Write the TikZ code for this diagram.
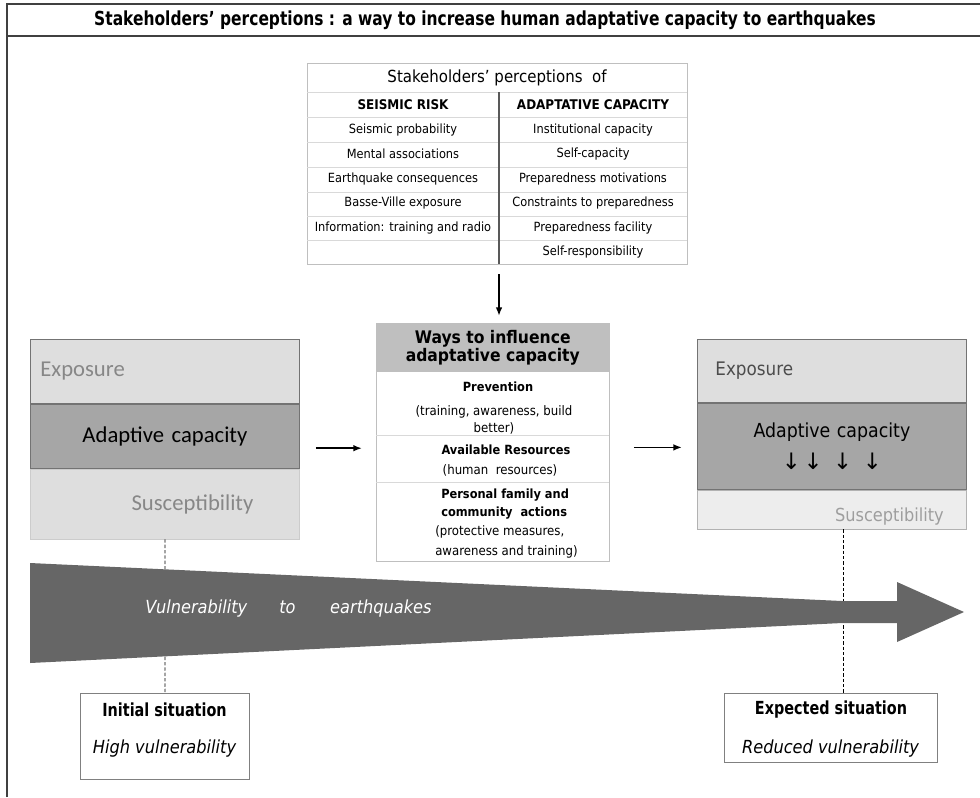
\documentclass[tikz,border=0pt]{standalone}
\usepackage{fontspec}
\setmainfont{DejaVu Sans}
\newfontfamily\condf{DejaVu Sans Condensed}
\newfontfamily\narrowf[FakeStretch=0.8]{DejaVu Sans}
\newfontfamily\calf{Carlito}
\usetikzlibrary{positioning,arrows.meta}
\definecolor{laylight}{HTML}{DEDEDE}
\definecolor{laydark}{HTML}{A6A6A6}
\definecolor{layfaint}{HTML}{EDEDED}
\definecolor{headgray}{HTML}{BFBFBF}
\definecolor{bigarrow}{HTML}{666666}
\definecolor{txtgray}{HTML}{878787}
\tikzset{
  frame_ln/.style = {draw=black!75, line width=0.8pt},
  tab_ln/.style = {draw=black!15, line width=0.6pt},
  tab_txt/.style = {font=\condf\fontsize{9.5}{11}\selectfont, inner sep=0pt},
  tab_hd/.style = {font=\condf\bfseries\fontsize{10}{12}\selectfont, inner sep=0pt},
  lay_box/.style = {draw=black!55, line width=0.6pt, minimum width=201.75pt, text width=201.75pt, inner xsep=0pt, inner ysep=0pt, anchor=north west},
  mid_txt/.style = {font=\condf\fontsize{9.8}{12.75}\selectfont, align=center, inner sep=0pt},
  mid_bf/.style = {font=\condf\bfseries\fontsize{9.5}{13.5}\selectfont, align=center, inner sep=0pt},
  sit_box/.style = {draw=black!50, line width=0.8pt, anchor=north west, fill=white, inner sep=0pt},
  sit_bf/.style = {font=\narrowf\bfseries\fontsize{13.5}{16}\selectfont, inner sep=0pt},
  sit_it/.style = {font=\condf\itshape\fontsize{13.5}{16}\selectfont, inner sep=0pt},
  link/.style = {-{Latex[length=6.5pt,width=5pt]}, line width=1.3pt},
  guide/.style = {dash pattern=on 2.5pt off 1.5pt, line width=0.6pt}
}

\begin{document}
\begin{tikzpicture}[x=0.75pt,y=-0.75pt]
	\useasboundingbox (0,0) rectangle (980,797);
	\draw[frame_ln] (7,797) -- (7,4) -- (980,4) (7,36) -- (980,36);
	\node[font=\narrowf\bfseries\fontsize{14.5}{16}\selectfont, inner sep=0pt] (title) at (485,20) {Stakeholders’ perceptions : a way to increase human adaptative capacity to earthquakes};

	\node[draw=black!25, line width=0.6pt, minimum width=285pt, minimum height=150.75pt, anchor=north west, inner sep=0pt] (tab) at (307,63) {};
	\foreach \yy in {92,117,142,167,192,216,240}
		\draw[tab_ln] (307,\yy) -- (687,\yy);
	\draw[draw=black!65, line width=0.9pt] (499,92) -- (499,264);
	\node[font=\condf\fontsize{12.5}{14}\selectfont, inner sep=0pt] (tabtitle) at (497,78) {Stakeholders’ perceptions\ \ of};
	\node[tab_hd] (srhead) at (403,105) {SEISMIC RISK};
	\node[tab_hd] (achead) at (593,105) {ADAPTATIVE CAPACITY};
	\foreach \lbl [count=\i] in {Seismic probability, Mental associations, Earthquake consequences, Basse-Ville exposure, {Information: training and radio}}
		\node[tab_txt] (sr\i) at (403,105+24.5*\i) {\lbl};
	\foreach \lbl [count=\i] in {Institutional capacity, Self-capacity, Preparedness motivations, Constraints to preparedness, Preparedness facility, Self-responsibility}
		\node[tab_txt] (ac\i) at (593,105+24.5*\i) {\lbl};

	\node[draw=black!25, line width=0.6pt, minimum width=174.75pt, minimum height=178.5pt, anchor=north west, inner sep=0pt] (mid) at (376,323) {};
	\node[fill=headgray, minimum width=174.75pt, minimum height=36.75pt, anchor=north west, inner sep=0pt, align=center, font=\condf\bfseries\fontsize{13}{13.5}\selectfont] (midhead) at (376,323) {Ways to influence\\adaptative capacity};
	\draw[tab_ln] (376,435) -- (609,435) (376,482) -- (609,482);
	\node[mid_bf] (prev) at (498,387) {Prevention};
	\node[mid_txt] (prevtxt) at (494,419.5) {(training, awareness, build\\better)};
	\node[mid_bf] (res) at (506,450) {Available Resources};
	\node[mid_txt] (restxt) at (500,470) {(human\ \ resources)};
	\node[mid_bf, align=left, anchor=west] (act) at (441,504) {Personal family and\\community\ \ actions};
	\node[mid_txt, align=left, anchor=west, font=\condf\fontsize{9.8}{15}\selectfont] (acttxt) at (435,542) {(protective measures,\\awareness and training)};

	\coordinate (tabfoot) at (499,274);
	\draw[link, shorten >=5.25pt] (tabfoot) -- (tabfoot |- mid.north);

	\node[lay_box, fill=laylight, minimum height=48pt, align=left, text=txtgray, font=\calf\fontsize{17}{20}\selectfont] (lExp) at (30,339) {\hspace*{7.5pt}Exposure};
	\node[lay_box, below=0pt of lExp, fill=laydark, minimum height=48pt, align=center, font=\calf\fontsize{17}{20}\selectfont] (lAdapt) {Adaptive capacity};
	\node[lay_box, below=0pt of lAdapt, draw=black!20, fill=laylight, minimum height=52.5pt, align=right, text=txtgray, font=\calf\fontsize{17}{20}\selectfont] (lSusc) {Susceptibility\hspace*{34.5pt}};

	\node[lay_box, fill=laylight, minimum height=47.25pt, align=left, text=black!70, font=\condf\fontsize{14}{16}\selectfont] (rExp) at (697,339) {\hspace*{13.5pt}Exposure};
	\node[lay_box, below=0pt of rExp, fill=laydark, minimum height=64.5pt, align=center, font=\condf\fontsize{14.5}{24}\selectfont] (rAdapt) {Adaptive capacity\\{\rmfamily\fontsize{17}{17}\selectfont ↓\hspace{2pt}↓\hspace{8pt}↓\hspace{8pt}↓}};
	\node[lay_box, below=0pt of rAdapt, draw=black!30, fill=layfaint, minimum height=29.25pt] (rSusc) {};
	\node[anchor=base east, text=black!38, font=\condf\fontsize{13.5}{16}\selectfont, inner sep=0pt] (rSuscTxt) at (944,521) {Susceptibility};

	\coordinate (lOut) at ([yshift=-9pt]lAdapt.east);
	\draw[link, shorten <=12pt, shorten >=10.5pt] (lOut) -- (lOut -| mid.west);
	\coordinate (mOut) at ([yshift=-3.75pt]mid.east);
	\draw[link, shorten <=18pt, shorten >=11.25pt] (mOut) -- (mOut -| rAdapt.west);

	\node[sit_box, minimum width=126.75pt, minimum height=64.5pt] (init) at (80,693) {};
	\node[sit_bf] (initT) at (164.5,710) {Initial situation};
	\node[sit_it] (initV) at (164.5,749) {High vulnerability};
	\node[sit_box, minimum width=159.75pt, minimum height=51.75pt] (expct) at (724,693) {};
	\node[sit_bf] (expctT) at (831,710) {Expected situation};
	\node[sit_it] (expctV) at (830.5,749) {Reduced vulnerability};

	\draw[guide] (lSusc.south) -- (init.north);
	\coordinate (rGuide) at ([xshift=8.25pt]rSusc.south);
	\draw[guide] (rGuide) -- (rGuide |- expct.north);

	\fill[bigarrow] (30,563) -- (842,601) -- (897,601) -- (897,582) -- (964,612) -- (897,642) -- (897,623) -- (842,623) -- (30,663) -- cycle;
	\node[anchor=west, text=white, font=\condf\itshape\fontsize{13.5}{16}\selectfont, inner sep=0pt] (vuln) at (145,609) {Vulnerability\hspace{24pt}to\hspace{26pt}earthquakes};
\end{tikzpicture}
\end{document}
